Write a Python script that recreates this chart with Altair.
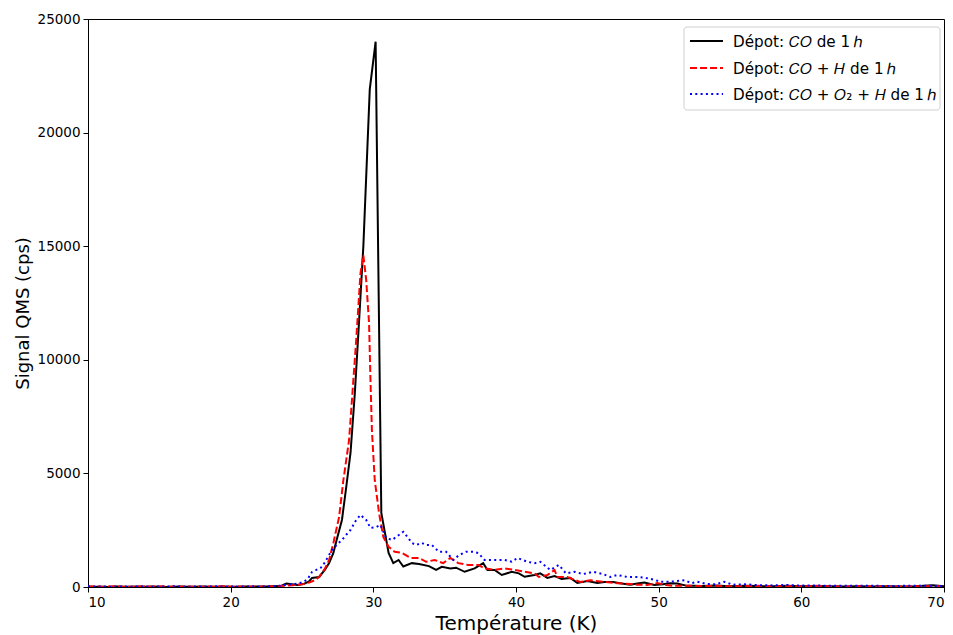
import altair as alt
import pandas as pd

# ---- data ----
t_co = [10.0, 10.5, 11.0, 11.5, 12.0, 12.5, 13.0, 13.5, 14.0, 14.5, 15.0, 15.5, 16.0, 16.5, 17.0, 17.5,
        18.0, 18.5, 19.0, 19.5, 20.0, 20.5, 21.0, 21.5, 22.0, 22.5, 23.0, 23.5, 23.9, 24.3, 24.7, 25.1,
        25.5, 25.7, 26.2, 26.6, 26.9, 27.2, 27.4, 27.8, 28.1, 28.4, 28.7, 29.0, 29.3, 29.75, 30.16, 30.56,
        31.07, 31.4, 31.77, 32.1, 32.7, 33.2, 33.9, 34.4, 34.8, 35.4, 35.8, 36.4, 37.1, 37.7, 38.0, 38.5,
        39.0, 39.7, 40.2, 40.6, 41.3, 41.7, 42.2, 42.7, 43.2, 43.8, 44.3, 45.0, 45.7, 46.2, 46.8, 47.3,
        48.0, 48.5, 49.0, 49.7, 50.3, 50.8, 51.3, 52.0, 52.5, 53.0, 54.0, 55.0, 56.0, 57.0, 58.0, 59.0,
        60.0, 61.0, 62.0, 63.0, 64.0, 65.0, 66.0, 67.0, 68.0, 69.2, 70.0]
v_co = [20, 10, 15, 5, 20, 10, 15, 25, 10, 20, 15, 5, 10, 20, 15, 10,
        20, 15, 10, 25, 15, 10, 20, 15, 25, 20, 30, 40, 150, 120, 90, 130,
        250, 400, 440, 750, 1050, 1500, 2000, 2950, 4400, 5900, 8500, 11700, 15000, 21900, 24000, 3260,
        1500, 1050, 1190, 900, 1050, 1010, 920, 750, 890, 820, 850, 670, 820, 1050, 750, 750,
        530, 670, 600, 450, 530, 600, 400, 480, 350, 400, 180, 260, 180, 220, 220, 170,
        100, 150, 200, 90, 120, 170, 150, 50, 60, 40, 70, 30, 50, 40, 30, 50,
        30, 40, 30, 20, 30, 25, 30, 20, 30, 80, 30]

t_coh = [10.0, 10.5, 11.0, 11.5, 12.0, 12.5, 13.0, 13.5, 14.0, 14.5, 15.0, 15.5, 16.0, 16.5, 17.0, 17.5,
         18.0, 18.5, 19.0, 19.5, 20.0, 20.5, 21.0, 21.5, 22.0, 22.5, 23.0, 23.5, 23.9, 24.3, 24.7, 25.1,
         25.5, 25.9, 26.2, 26.6, 26.9, 27.2, 27.6, 27.9, 28.3, 28.6, 28.8, 29.1, 29.3, 29.5, 29.7, 29.8,
         29.9, 30.1, 30.4, 30.7, 31.07, 31.5, 32.0, 32.6, 33.2, 33.7, 34.3, 34.9, 35.4, 35.95, 36.65, 37.35,
         37.8, 38.5, 39.2, 39.9, 40.6, 41.3, 41.6, 42.2, 42.7, 42.9, 43.6, 44.5, 45.2, 46.2, 47.1, 48.0,
         48.5, 49.2, 49.9, 50.5, 51.1, 52.0, 53.0, 54.0, 55.0, 56.0, 57.0, 58.0, 59.0, 60.0, 61.0, 62.0,
         63.0, 64.0, 65.0, 66.0, 67.0, 68.0, 69.0, 70.0]
v_coh = [15, 25, 10, 20, 30, 15, 10, 20, 25, 10, 30, 15, 20, 10, 25, 15,
         10, 20, 15, 30, 10, 20, 15, 25, 10, 30, 20, 40, 60, 80, 100, 130,
         200, 300, 440, 800, 1190, 1940, 3080, 4700, 6470, 9110, 10870, 13820, 14600, 13510, 11620, 9110,
         6900, 4700, 3260, 2200, 1770, 1550, 1500, 1280, 1280, 1110, 1190, 1050, 1280, 1050, 970, 970,
         820, 750, 820, 750, 670, 600, 440, 530, 750, 440, 440, 220, 300, 220, 170, 130,
         100, 90, 170, 90, 50, 60, 40, 50, 30, 40, 50, 30, 40, 30, 50, 30,
         20, 40, 25, 30, 20, 30, 40, 30]

t_coo2h = [10.0, 10.5, 11.0, 11.5, 12.0, 12.5, 13.0, 13.5, 14.0, 14.5, 15.0, 15.5, 16.0, 16.5, 17.0, 17.5,
           18.0, 18.5, 19.0, 19.5, 20.0, 20.5, 21.0, 21.5, 22.0, 22.5, 23.0, 23.5, 23.9, 24.3, 24.7, 25.1,
           25.4, 25.7, 26.0, 26.4, 26.8, 27.1, 27.5, 27.8, 28.1, 28.4, 28.8, 29.1, 29.5, 29.8, 30.2, 30.5,
           30.9, 31.3, 31.6, 32.1, 32.4, 32.7, 33.0, 33.4, 33.7, 34.1, 34.6, 35.1, 35.6, 36.0, 36.5, 37.0,
           37.35, 37.8, 38.5, 39.2, 39.7, 40.1, 40.8, 41.3, 41.7, 42.4, 43.0, 43.5, 44.1, 44.7, 45.4, 46.1,
           46.6, 47.1, 47.8, 48.5, 49.1, 49.8, 50.1, 50.8, 51.3, 51.8, 52.3, 52.7, 53.4, 54.0, 54.6, 55.2,
           56.0, 57.0, 58.0, 59.0, 60.0, 61.0, 62.0, 63.0, 64.0, 65.0, 66.0, 67.0, 68.0, 69.0, 70.0]
v_coo2h = [30, 15, 25, 10, 20, 30, 15, 25, 20, 10, 25, 15, 30, 20, 10, 25,
           15, 20, 30, 10, 25, 15, 20, 30, 15, 25, 30, 60, 100, 120, 150, 220,
           350, 660, 750, 880, 1300, 1630, 1900, 2070, 2300, 2510, 2950, 3170, 2950, 2600, 2640, 2730,
           2160, 2070, 2200, 2430, 2200, 1940, 1850, 1940, 1850, 1850, 1550, 1550, 1190, 1400, 1550, 1550,
           1500, 1190, 1190, 1190, 1110, 1280, 1110, 1050, 1110, 750, 970, 600, 670, 570, 670, 570,
           440, 530, 440, 440, 400, 300, 230, 230, 260, 300, 170, 230, 130, 120, 230, 100,
           120, 80, 70, 90, 60, 70, 50, 60, 50, 60, 40, 50, 60, 50, 40]

x_ticks = [10, 20, 30, 40, 50, 60, 70]
y_ticks = [0, 5000, 10000, 15000, 20000, 25000]

labels = [
    "Dépot: \U0001D436\U0001D442 de 1\u2009\u210E",
    "Dépot: \U0001D436\U0001D442 + \U0001D43B de 1\u2009\u210E",
    "Dépot: \U0001D436\U0001D442 + \U0001D442\u2082 + \U0001D43B de 1\u2009\u210E",
]

FONT = "DejaVu Sans"
W, H = 856, 568

x_enc = alt.X("T:Q", scale=alt.Scale(domain=[10, 70], nice=False, zero=False),
              axis=alt.Axis(values=x_ticks, title="Température (K)", format="d"))
y_enc = alt.Y("S:Q", scale=alt.Scale(domain=[0, 25000], nice=False),
              axis=alt.Axis(values=y_ticks, title="Signal QMS (cps)", format="d",
                            titleFontSize=18, titleY=294))


def series(ts, vs, color, dash=None):
    df = pd.DataFrame({"T": ts, "S": vs})
    kw = dict(color=color, strokeWidth=2, clip=True)
    if dash is not None:
        kw["strokeDash"] = dash
    return alt.Chart(df).mark_line(**kw).encode(x=x_enc, y=y_enc)


one = pd.DataFrame({"k": [0]})

legend_box = alt.Chart(one).mark_rect(fill="white", fillOpacity=0.8, stroke="#d0d0d0",
                                      strokeWidth=1, cornerRadius=3).encode(
    x=alt.value(596), x2=alt.value(852), y=alt.value(8), y2=alt.value(91))

leg_layers = [legend_box]
leg_styles = [("black", None), ("red", [7, 3]), ("blue", [2, 3.3])]
ys = [22, 49, 75]
for (col, dash), yy, lab in zip(leg_styles, ys, labels):
    kw = dict(color=col, strokeWidth=2)
    if dash is not None:
        kw["strokeDash"] = dash
    leg_layers.append(alt.Chart(one).mark_rule(**kw).encode(
        x=alt.value(602), x2=alt.value(635), y=alt.value(yy)))
    leg_layers.append(alt.Chart(one).mark_text(align="left", baseline="middle", font=FONT,
                                               fontSize=15.2, color="black").encode(
        x=alt.value(645), y=alt.value(yy + 1), text=alt.value(lab)))

chart = alt.layer(
    series(t_co, v_co, "black"),
    series(t_coh, v_coh, "red", [7, 3]),
    series(t_coo2h, v_coo2h, "blue", [2, 3.3]),
    *leg_layers,
).properties(
    width=W, height=H,
    autosize=alt.AutoSizeParams(type="none"),
    padding={"left": 80, "top": 11, "right": 1, "bottom": 47},
).configure_view(
    stroke="black", strokeWidth=1
).configure_axis(
    grid=False, domainColor="black", domainWidth=1, tickColor="black", tickSize=5,
    labelColor="black", labelFont=FONT, labelFontSize=13.5, labelPadding=3,
    titleColor="black", titleFont=FONT, titleFontSize=20, titleFontWeight="normal",
).configure_axisY(titlePadding=5).configure_axisX(titlePadding=5)

chart.save("out.html", embed_options={"renderer": "svg", "actions": False})
